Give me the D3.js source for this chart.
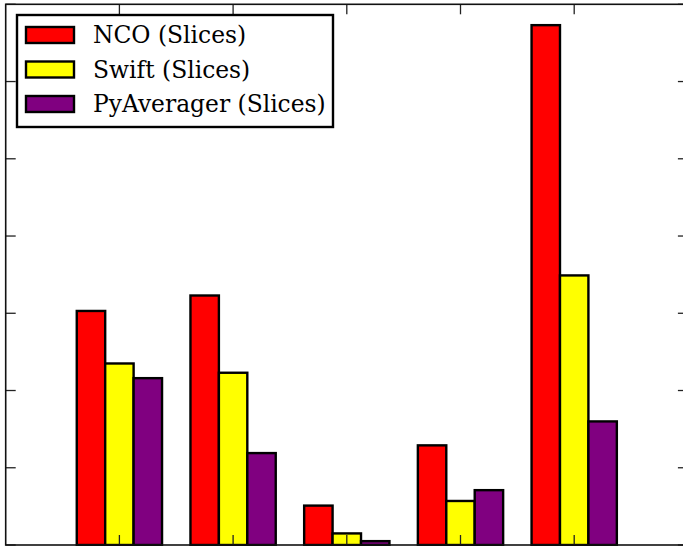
<!DOCTYPE html>
<html>
<head>
<meta charset="utf-8">
<script src="https://cdn.jsdelivr.net/npm/d3@7"></script>
<style>
  html, body { margin: 0; padding: 0; background: #fff; }
  svg { display: block; }
</style>
</head>
<body>
<svg id="chart"></svg>
<script>
var width = 683, height = 546

// data
var categories = [0, 1, 2, 3, 4]
var series = ["NCO (Slices)", "Swift (Slices)", "PyAverager (Slices)"]
var colours = ["#ff0000", "#ffff00", "#800080"]
var nco = [3.03, 3.23, 0.51, 1.29, 6.73]
var swift = [2.35, 2.23, 0.15, 0.57, 3.49]
var pyavg = [2.16, 1.19, 0.05, 0.71, 1.60]
var yTicks = [0, 1, 2, 3, 4, 5, 6, 7]

var values = [nco, swift, pyavg]

var svg = d3.select("#chart")
    .attr("width", width)
    .attr("height", height)

// axes box runs past the right edge (cropped figure)
var x = d3.scaleLinear().domain([-1, 5]).range([5.7, 687.9])
var y = d3.scaleLinear().domain([0, 7]).range([545, 4.3])

var step = x(1) - x(0)
var bw = step * 0.25

var g = svg.append("g")

series.forEach(function(name, si) {
    g.append("g")
        .selectAll("rect")
        .data(categories)
        .enter()
        .append("rect")
            .attr("x", d => x(d) + (si - 1.5) * bw)
            .attr("y", d => y(values[si][d]))
            .attr("width", bw)
            .attr("height", d => y(0) - y(values[si][d]))
            .attr("fill", colours[si])
            .attr("stroke", "black")
            .attr("stroke-width", 2.4)
})

// ticks, inward on all four sides
var tickLen = 10
var ticks = svg.append("g")
    .attr("stroke", "#222")
    .attr("stroke-width", 1.3)
categories.forEach(function(c) {
    ticks.append("line")
        .attr("x1", x(c)).attr("x2", x(c))
        .attr("y1", y(0)).attr("y2", y(0) - tickLen)
    ticks.append("line")
        .attr("x1", x(c)).attr("x2", x(c))
        .attr("y1", y(7)).attr("y2", y(7) + tickLen)
})
yTicks.forEach(function(t) {
    ticks.append("line")
        .attr("x1", x(-1)).attr("x2", x(-1) + tickLen)
        .attr("y1", y(t)).attr("y2", y(t))
    ticks.append("line")
        .attr("x1", x(5)).attr("x2", x(5) - tickLen)
        .attr("y1", y(t)).attr("y2", y(t))
})

// frame
svg.append("rect")
    .attr("x", x(-1))
    .attr("y", y(7))
    .attr("width", x(5) - x(-1))
    .attr("height", y(0) - y(7))
    .attr("fill", "none")
    .attr("stroke", "#111")
    .attr("stroke-width", 1.6)

// legend
var legend = svg.append("g").attr("transform", "translate(17,15)")
legend.append("rect")
    .attr("width", 316)
    .attr("height", 112)
    .attr("fill", "white")
    .attr("stroke", "black")
    .attr("stroke-width", 2.4)

series.forEach(function(name, i) {
    var row = legend.append("g").attr("transform", "translate(0," + (20 + i * 34.5) + ")")
    row.append("rect")
        .attr("x", 9)
        .attr("y", -8)
        .attr("width", 48)
        .attr("height", 16)
        .attr("fill", colours[i])
        .attr("stroke", "black")
        .attr("stroke-width", 2.4)
    row.append("text")
        .attr("x", 76)
        .attr("y", 8)
        .attr("font-family", "DejaVu Serif")
        .attr("font-size", 23.4)
        .attr("fill", "black")
        .text(name)
})
</script>
</body>
</html>
